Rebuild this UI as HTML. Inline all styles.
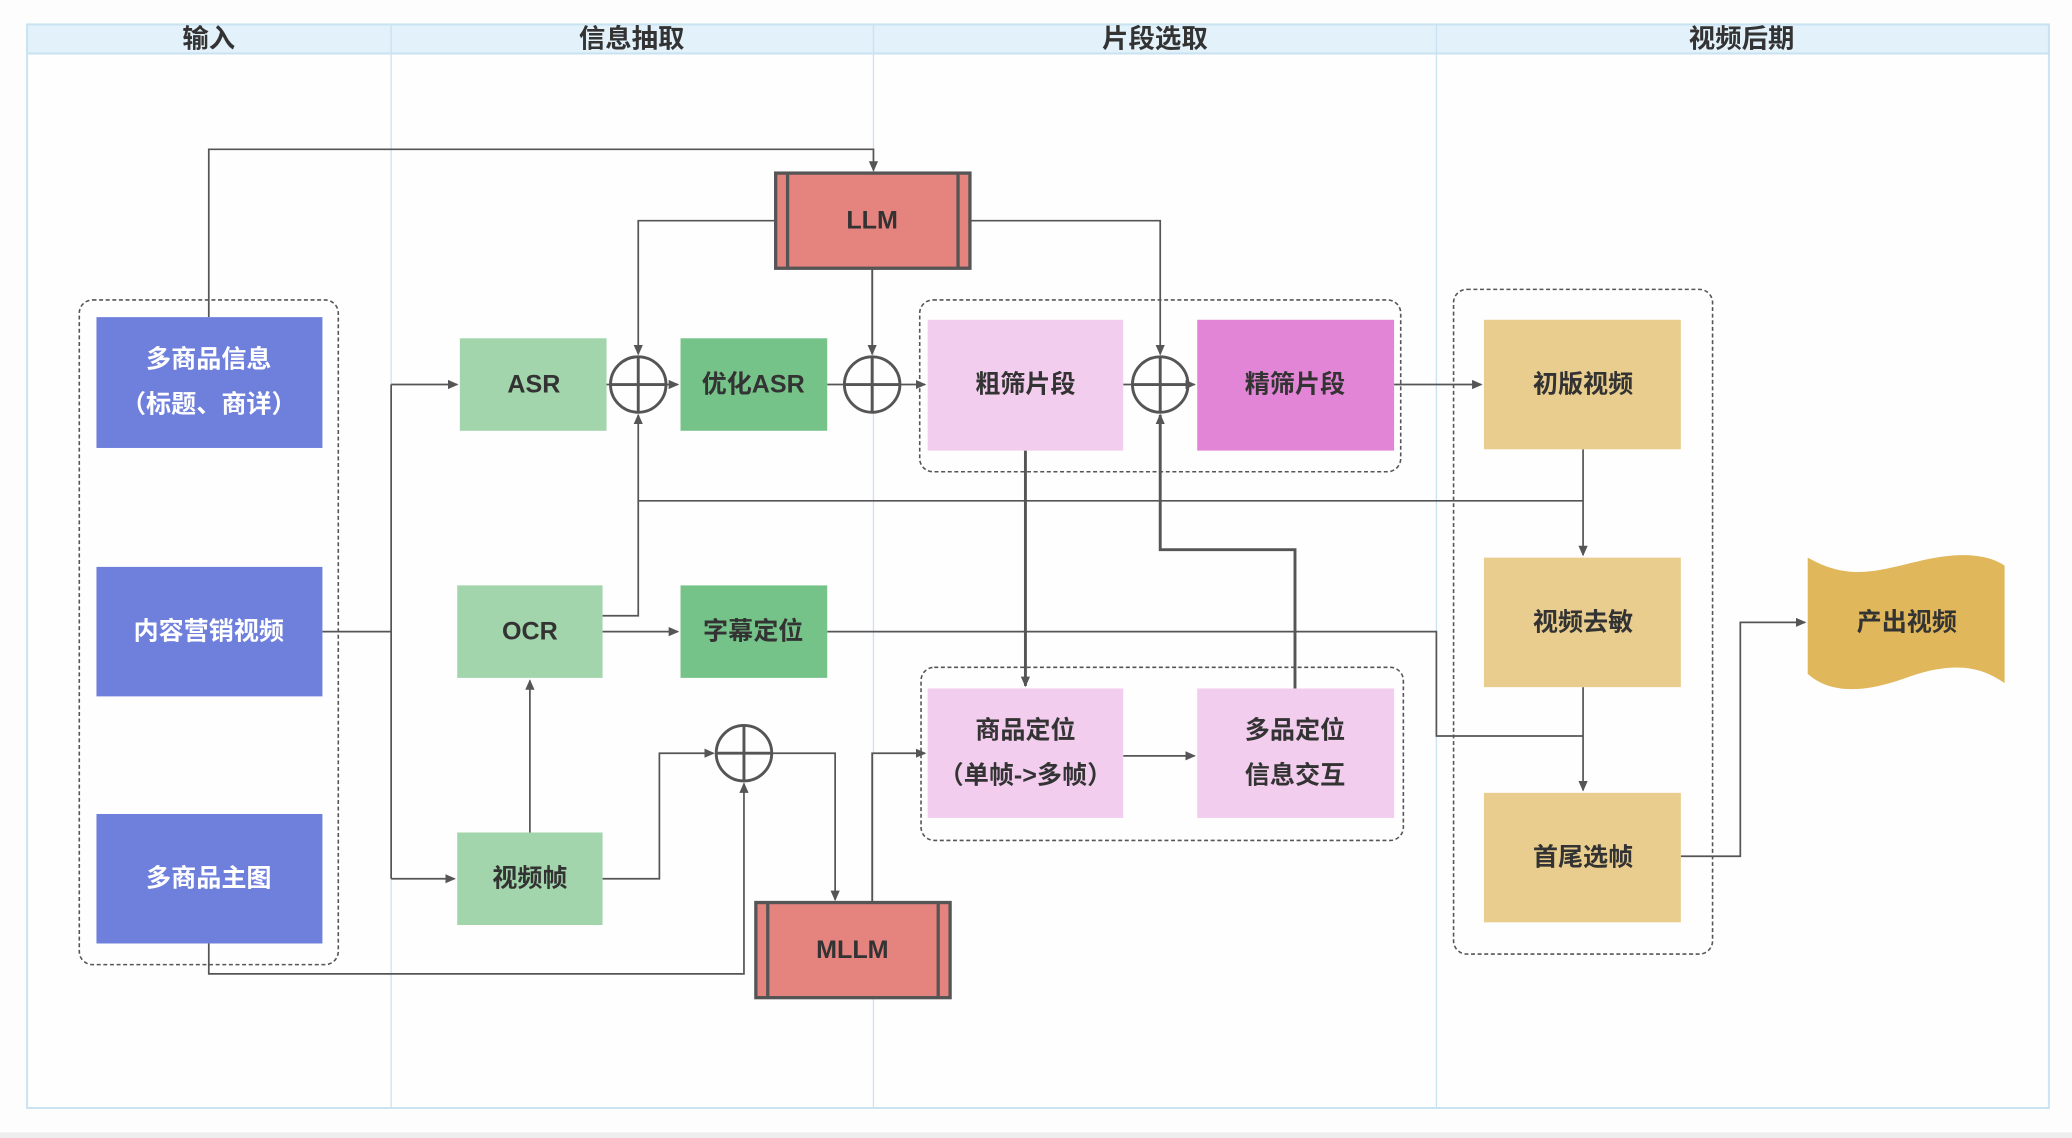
<!DOCTYPE html>
<html><head><meta charset="utf-8"><style>
html,body{margin:0;padding:0;background:#fff;width:2072px;height:1138px;overflow:hidden}
svg{display:block}
text{font-family:"Liberation Sans","Noto Sans CJK SC",sans-serif;font-weight:bold;text-anchor:middle;dominant-baseline:central}
</style></head><body>
<svg width="2072" height="1138" viewBox="0 0 1568 861.2" preserveAspectRatio="none" xmlns="http://www.w3.org/2000/svg">
<defs>
<marker id="a" markerWidth="8" markerHeight="8" refX="7" refY="4" orient="auto" markerUnits="userSpaceOnUse"><path d="M0,0.5 L8,4 L0,7.5 Z" fill="#555"/></marker>
</defs>
<rect x="0" y="0" width="1568" height="861.2" fill="#fdfdfd"/>
<rect x="0" y="857" width="1568" height="5" fill="#eeeeee"/>
<rect x="20.5" y="18.5" width="1530" height="820" fill="#fefefe" stroke="#c9e3f3" stroke-width="1.5"/>
<rect x="20.5" y="18.5" width="1530" height="22" fill="#e2f1fa" stroke="#c9e3f3" stroke-width="1.5"/>
<g stroke="#c9e3f3" stroke-width="1"><line x1="296" y1="18" x2="296" y2="838"/><line x1="661" y1="18" x2="661" y2="838"/><line x1="1087" y1="18" x2="1087" y2="838"/></g>
<g font-size="20" fill="#333"><text x="158" y="29">输入</text><text x="478" y="29">信息抽取</text><text x="874" y="29">片段选取</text><text x="1318" y="29">视频后期</text></g>
<g fill="none" stroke="#555" stroke-width="1.2" stroke-dasharray="3,2">
<rect x="60" y="227" width="196" height="503" rx="10"/>
<rect x="696" y="227" width="364" height="130" rx="10"/>
<rect x="697" y="505" width="365" height="131" rx="10"/>
<rect x="1100" y="219" width="196" height="503" rx="10"/>
</g>
<g fill="none" stroke="#555" stroke-width="1.3">
<path d="M158,240 V113 H661 V129" marker-end="url(#a)"/>
<path d="M587,167 H483 V268" marker-end="url(#a)"/>
<path d="M660,203 V268" marker-end="url(#a)"/>
<path d="M734,167 H878 V268" marker-end="url(#a)"/>
<path d="M459,291 H513" marker-end="url(#a)"/>
<path d="M626,291 H700" marker-end="url(#a)"/>
<path d="M850,291 H904" marker-end="url(#a)"/>
<path d="M1055,291 H1121" marker-end="url(#a)"/>
<path d="M244,478 H296"/>
<path d="M296,291 V665"/>
<path d="M296,291 H346" marker-end="url(#a)"/>
<path d="M296,665 H344" marker-end="url(#a)"/>
<path d="M456,466 H483 V314" marker-end="url(#a)"/>
<path d="M456,478 H513" marker-end="url(#a)"/>
<path d="M626,478 H1087 V557 H1198"/>
<path d="M401,630 V515" marker-end="url(#a)"/>
<path d="M456,665 H499 V570 H540" marker-end="url(#a)"/>
<path d="M158,714 V737 H563 V593" marker-end="url(#a)"/>
<path d="M584,570 H632 V681" marker-end="url(#a)"/>
<path d="M660,683 V570 H700" marker-end="url(#a)"/>
<path d="M850,572 H904" marker-end="url(#a)"/>
<path d="M483,379 H1198"/>
<path d="M1198,340 V420" marker-end="url(#a)"/>
<path d="M1198,520 V598" marker-end="url(#a)"/>
<path d="M1272,648 H1317 V471 H1366" marker-end="url(#a)"/>
</g>
<g fill="none" stroke="#555" stroke-width="2.2">
<path d="M776,341 V519" marker-end="url(#a)"/>
<path d="M980,521 V416 H878 V314" marker-end="url(#a)"/>
</g>
<g fill="none" stroke="#555" stroke-width="2.2">
<circle cx="483" cy="291" r="21"/><path d="M462,291 H504 M483,270 V312"/>
<circle cx="660" cy="291" r="21"/><path d="M639,291 H681 M660,270 V312"/>
<circle cx="878" cy="291" r="21"/><path d="M857,291 H899 M878,270 V312"/>
<circle cx="563" cy="570" r="21"/><path d="M542,570 H584 M563,549 V591"/>
</g>
<g>
<rect x="73" y="240" width="171" height="99" fill="#6f7fdc"/>
<rect x="73" y="429" width="171" height="98" fill="#6f7fdc"/>
<rect x="73" y="616" width="171" height="98" fill="#6f7fdc"/>
<rect x="348" y="256" width="111" height="70" fill="#a2d5ab"/>
<rect x="515" y="256" width="111" height="70" fill="#76c38a"/>
<rect x="346" y="443" width="110" height="70" fill="#a2d5ab"/>
<rect x="515" y="443" width="111" height="70" fill="#76c38a"/>
<rect x="346" y="630" width="110" height="70" fill="#a2d5ab"/>
<rect x="702" y="242" width="148" height="99" fill="#f2cdee"/>
<rect x="906" y="242" width="149" height="99" fill="#e385d6"/>
<rect x="702" y="521" width="148" height="98" fill="#f2cdee"/>
<rect x="906" y="521" width="149" height="98" fill="#f2cdee"/>
<rect x="1123" y="242" width="149" height="98" fill="#e8cd8e"/>
<rect x="1123" y="422" width="149" height="98" fill="#e8cd8e"/>
<rect x="1123" y="600" width="149" height="98" fill="#e8cd8e"/>
<path d="M1368,422 C1400,440 1420,432 1455,424 C1485,417 1505,420 1517,428 V517 C1500,505 1480,500 1445,512 C1410,525 1385,525 1368,510 Z" fill="#e0b75a"/>
<g stroke="#555" stroke-width="2.5" fill="#e5837f">
<rect x="587" y="131" width="147" height="72"/><path d="M596,131 V203 M725,131 V203" fill="none"/>
<rect x="572" y="683" width="147" height="72"/><path d="M581,683 V755 M710,683 V755" fill="none"/>
</g>
</g>
<g font-size="19" fill="#fff">
<text x="158" y="272">多商品信息</text><text x="158" y="306">（标题、商详）</text>
<text x="158" y="478">内容营销视频</text>
<text x="158" y="665">多商品主图</text>
</g>
<g font-size="19" fill="#333">
<text x="404" y="291">ASR</text>
<text x="570" y="291">优化ASR</text>
<text x="401" y="478">OCR</text>
<text x="570" y="478">字幕定位</text>
<text x="401" y="665">视频帧</text>
<text x="660" y="167">LLM</text>
<text x="645" y="719">MLLM</text>
<text x="776" y="291">粗筛片段</text>
<text x="980" y="291">精筛片段</text>
<text x="776" y="553">商品定位</text><text x="776" y="587">（单帧-&gt;多帧）</text>
<text x="980" y="553">多品定位</text><text x="980" y="587">信息交互</text>
<text x="1198" y="291">初版视频</text>
<text x="1198" y="471">视频去敏</text>
<text x="1198" y="649">首尾选帧</text>
<text x="1443" y="471">产出视频</text>
</g>
</svg>
</body></html>
